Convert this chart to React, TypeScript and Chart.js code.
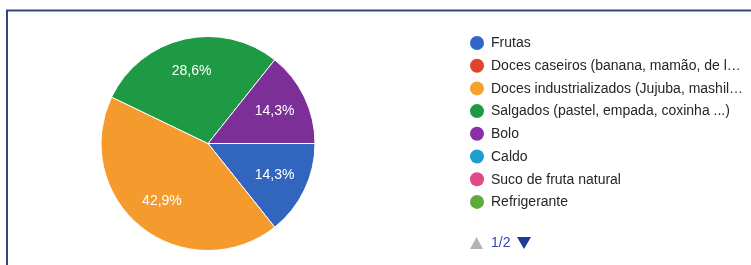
import React, { useEffect, useRef } from "react";
import { Chart, registerables } from "chart.js";

Chart.register(...registerables);

const categories = [
  "Frutas",
  "Doces caseiros (banana, mamão, de leite ...)",
  "Doces industrializados (Jujuba, mashilmelo, pirulito ...)",
  "Salgados (pastel, empada, coxinha ...)",
  "Bolo",
  "Caldo",
  "Suco de fruta natural",
  "Refrigerante",
];
const counts = [1, 0, 3, 2, 1, 0, 0, 0];
const colors = ["#3266be", "#dc4127", "#f59b2e", "#1f9a44", "#7d2f98", "#1a9bc9", "#dd4681", "#5fab3a"];
const legendColors = ["#2f66c8", "#e0452a", "#f7a02c", "#1f9a44", "#8a2fa6", "#1f9fcf", "#e04a86", "#5fab3a"];
const pageLabel = "1/2";

const FONT = '"Liberation Sans", Arial, sans-serif';

function fitText(ctx: CanvasRenderingContext2D, text: string, maxW: number) {
  if (ctx.measureText(text).width <= maxW) return text;
  let t = text;
  while (t.length > 0 && ctx.measureText(t + "…").width > maxW) t = t.slice(0, -1);
  return t + "…";
}

export default function App() {
  const ref = useRef<HTMLCanvasElement>(null);
  useEffect(() => {
    if (!ref.current) return;
    const framePlugin = {
      id: "frame",
      beforeDraw(chart: any) {
        const ctx = chart.ctx;
        ctx.save();
        ctx.fillStyle = "#ffffff";
        ctx.fillRect(0, 0, chart.width, chart.height);
        ctx.strokeStyle = "#34457a";
        ctx.lineWidth = 2;
        ctx.beginPath();
        ctx.moveTo(751, 10.5);
        ctx.lineTo(7, 10.5);
        ctx.lineTo(7, 265);
        ctx.stroke();
        ctx.restore();
      },
    };
    const sliceLabels = {
      id: "sliceLabels",
      afterDatasetsDraw(chart: any) {
        const ctx = chart.ctx;
        const meta = chart.getDatasetMeta(0);
        const data = chart.data.datasets[0].data as number[];
        const total = data.reduce((a, b) => a + b, 0);
        ctx.save();
        ctx.fillStyle = "#ffffff";
        ctx.font = `14px ${FONT}`;
        ctx.textAlign = "center";
        ctx.textBaseline = "middle";
        meta.data.forEach((arc: any, i: number) => {
          if (!data[i]) return;
          const p = arc.getProps(["startAngle", "endAngle", "outerRadius", "x", "y"], true);
          const mid = (p.startAngle + p.endAngle) / 2;
          const r = p.outerRadius * 0.69;
          const txt = ((data[i] / total) * 100).toFixed(1).replace(".", ",") + "%";
          ctx.fillText(txt, p.x + Math.cos(mid) * r, p.y + Math.sin(mid) * r);
        });
        ctx.restore();
      },
    };
    const legendPlugin = {
      id: "customLegend",
      afterDraw(chart: any) {
        const ctx = chart.ctx;
        const labels = chart.data.labels as string[];
        ctx.save();
        ctx.font = `14px ${FONT}`;
        ctx.textBaseline = "middle";
        labels.forEach((lab, i) => {
          const y = 43 + i * 22.7;
          ctx.fillStyle = legendColors[i];
          ctx.beginPath();
          ctx.arc(477, y, 7, 0, Math.PI * 2);
          ctx.fill();
          ctx.fillStyle = "#262626";
          ctx.textAlign = "left";
          ctx.fillText(fitText(ctx, lab, 256), 491, y + 0.5);
        });
        // pager
        const py = 243;
        ctx.fillStyle = "#b4b4b4";
        ctx.beginPath();
        ctx.moveTo(470, py + 6);
        ctx.lineTo(483, py + 6);
        ctx.lineTo(476.5, py - 6);
        ctx.closePath();
        ctx.fill();
        ctx.fillStyle = "#3347b5";
        ctx.font = `14px ${FONT}`;
        ctx.fillText(pageLabel, 491, py + 0.5);
        ctx.fillStyle = "#1d3a94";
        ctx.beginPath();
        ctx.moveTo(517, py - 6);
        ctx.lineTo(531, py - 6);
        ctx.lineTo(524, py + 6);
        ctx.closePath();
        ctx.fill();
        ctx.restore();
      },
    };
    const chart = new Chart(ref.current, {
      type: "pie",
      data: {
        labels: categories,
        datasets: [
          {
            data: counts,
            backgroundColor: colors,
            borderColor: "#ffffff",
            borderWidth: 1,
          },
        ],
      },
      options: {
        animation: false,
        responsive: false,
        rotation: 90,
        layout: { padding: { left: 100.5, right: 435.5, top: 36, bottom: 14 } },
        plugins: { legend: { display: false }, tooltip: { enabled: false } },
      },
      plugins: [framePlugin, sliceLabels, legendPlugin],
    });
    return () => chart.destroy();
  }, []);
  return (
    <div style={{ position: "absolute", left: 0, top: 0, width: 751, height: 265 }}>
      <canvas ref={ref} width={751} height={265} style={{ width: 751, height: 265, display: "block" }} />
    </div>
  );
}
